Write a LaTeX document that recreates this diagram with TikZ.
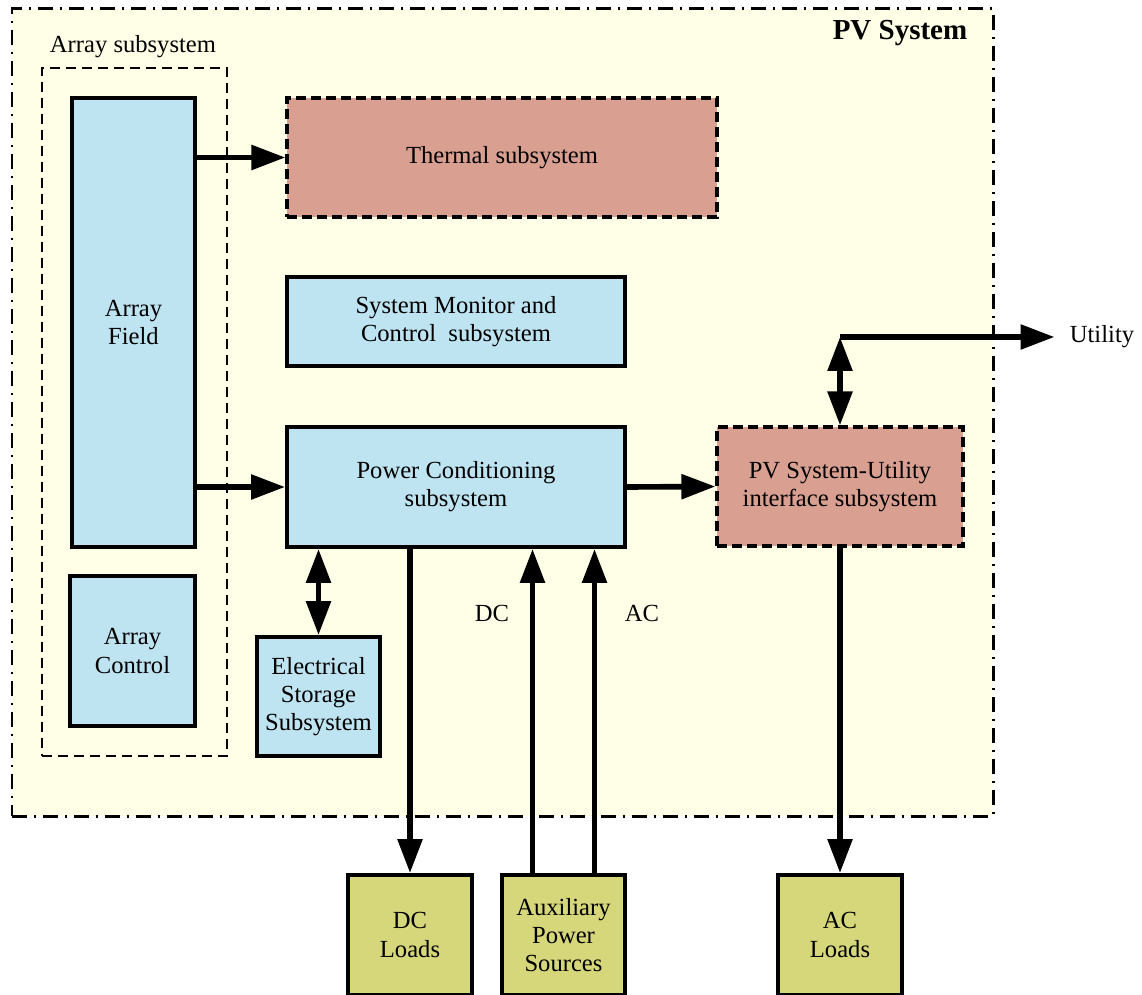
\documentclass[tikz,border=0pt]{standalone}
\usepackage{fontspec}
\setmainfont{Liberation Serif}
\usepackage{xcolor}
\usetikzlibrary{arrows.meta, positioning, calc}
\definecolor{pvcream}{HTML}{FFFEE6}
\definecolor{pvblue}{HTML}{BEE3F1}
\definecolor{pvpink}{HTML}{D9A092}
\definecolor{pvolive}{HTML}{D6D67B}

\begin{document}
\begin{tikzpicture}[
    box/.style={draw, line width=2.2pt, align=center, font=\fontsize{14}{16}\selectfont, fill=pvblue, inner sep=2pt},
    subbox/.style={box, line width=1.8pt, dash pattern=on 0.2cm off 0.1cm, fill=pvpink},
    loadbox/.style={box, fill=pvolive},
    lbl/.style={font=\fontsize{14}{16}\selectfont},
    arr/.style={line width=3.2pt, -{Triangle[length=0.68cm,width=0.48cm]}},
    biarr/.style={line width=3.2pt, {Triangle[length=0.68cm,width=0.48cm]}-{Triangle[length=0.68cm,width=0.48cm]}}
]
    \useasboundingbox (0,0) rectangle (22.84,-19.9);
    % frames
    \node[draw, fill=pvcream, line width=1.7pt, dash pattern=on 0.3cm off 0.14cm on 0.04cm off 0.14cm,
          minimum width=19.62cm, minimum height=16.14cm] (pvsys) at (10.05,-8.25) {};
    \node[font=\fontsize{16.5}{18}\selectfont\bfseries] (pvlabel) at (18.0,-0.66) {PV System};
    \node[draw, line width=1.3pt, dash pattern=on 0.2cm off 0.12cm,
          minimum width=3.70cm, minimum height=13.76cm] (arraysys) at (2.69,-8.24) {};
    \node[lbl] (arraylabel) at (2.66,-0.94) {Array subsystem};

    % blocks
    \node[box, minimum width=2.46cm, minimum height=8.98cm] (field) at (2.67,-6.45) {Array\\Field};
    \node[box, minimum width=2.50cm, minimum height=3.00cm] (control) at (2.65,-13.02) {Array\\Control};
    \node[subbox, minimum width=8.60cm, minimum height=2.38cm] (thermal) at (10.04,-3.15) {Thermal subsystem};
    \node[box, minimum width=6.76cm, minimum height=1.78cm] (monitor) at (9.12,-6.43) {System Monitor and\\Control\ \ subsystem};
    \node[box, minimum width=6.76cm, minimum height=2.40cm] (power) at (9.12,-9.74) {Power Conditioning\\subsystem};
    \node[subbox, minimum width=4.92cm, minimum height=2.38cm] (iface) at (16.80,-9.73) {PV System-Utility\\interface subsystem};
    \node[box, minimum width=2.46cm, minimum height=2.38cm] (storage) at (6.37,-13.93) {Electrical\\Storage\\Subsystem};
    \node[loadbox, minimum width=2.48cm, minimum height=2.40cm] (dcloads) at (8.20,-18.70) {DC\\Loads};
    \node[loadbox, minimum width=2.46cm, minimum height=2.40cm] (aux) at (11.27,-18.70) {Auxiliary\\Power\\Sources};
    \node[loadbox, minimum width=2.48cm, minimum height=2.40cm] (acloads) at (16.80,-18.70) {AC\\Loads};

    \node[lbl] (dclabel) at (9.84,-12.26) {DC};
    \node[lbl] (aclabel) at (12.84,-12.26) {AC};
    \node[lbl, inner sep=0.3cm] (utility) at (22.04,-6.74) {Utility};
    \coordinate (tap) at (16.80,-6.74);
    \coordinate (auxdc) at ($(aux.north)+(-0.62,0)$);
    \coordinate (auxac) at ($(aux.north)+(0.62,0)$);

    % connections
    \draw[arr] (field.east |- thermal) -- (thermal.west);
    \draw[arr] (field.east |- power) -- (power.west);
    \draw[arr] (power.east) -- (iface.west);
    \draw[biarr] (storage.north) -- (storage.north |- power.south);
    \draw[arr] (power.south -| dcloads) -- (dcloads.north);
    \draw[arr] (auxdc) -- (auxdc |- power.south);
    \draw[arr] (auxac) -- (auxac |- power.south);
    \draw[arr] (iface.south) -- (acloads.north);
    \draw[biarr] (iface.north) -- (tap);
    \draw[arr] (tap) -- (utility.west);
\end{tikzpicture}
\end{document}
